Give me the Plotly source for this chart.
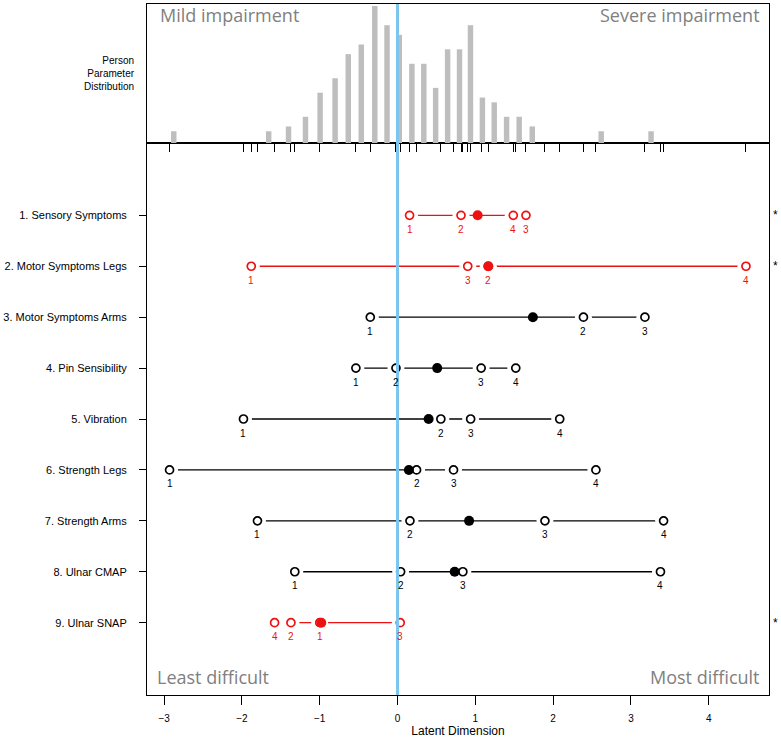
import plotly.graph_objects as go

# ---------------- data ----------------
items = ["1. Sensory Symptoms", "2. Motor Symptoms Legs", "3. Motor Symptoms Arms",
         "4. Pin Sensibility", "5. Vibration", "6. Strength Legs", "7. Strength Arms",
         "8. Ulnar CMAP", "9. Ulnar SNAP"]
# thresholds listed in category order (1, 2, 3, 4)
thresholds = [
    [0.155, 0.816, 1.651, 1.488],
    [-1.88, 1.167, 0.903, 4.479],
    [-0.35, 2.39, 3.18],
    [-0.535, -0.02, 1.075, 1.52],
    [-1.98, 0.557, 0.94, 2.085],
    [-2.93, 0.245, 0.72, 2.55],
    [-1.80, 0.16, 1.895, 3.42],
    [-1.32, 0.04, 0.84, 3.38],
    [-1.00, -1.37, 0.035, -1.58],
]
locations = [1.03, 1.167, 1.74, 0.51, 0.40, 0.146, 0.92, 0.735, -0.98]
misfit = [True, True, False, False, False, False, False, False, True]

person_x = [-2.876, -1.656, -1.401, -1.183, -0.995, -0.802, -0.633, -0.466, -0.292,
            -0.135, 0.023, 0.185, 0.338, 0.490, 0.644, 0.797, 0.938, 1.091, 1.243,
            1.402, 1.564, 1.732, 2.618, 3.259]
person_counts = [1, 1, 2, 4, 9, 12, 17, 19, 27, 23, 21, 15, 15, 10, 18, 18, 23, 8, 7,
                 4, 4, 2, 1, 1]

x_ticks = [-3, -2, -1, 0, 1, 2, 3, 4]
x_ticktext = ["\u22123", "\u22122", "\u22121", "0", "1", "2", "3", "4"]

# ---------------- style ----------------
RED = "#EE1111"
BLACK = "#000000"
GRAY_TXT = "#808080"
BAR = "#BEBEBE"
BLUE = "#7CC6EE"
FONT = "Liberation Sans, Arial, sans-serif"
BIGFONT = "Open Sans, sans-serif"
hist_offset = 1.44

fig = go.Figure()

rows = list(range(1, len(items) + 1))

# lines
for r, thr, bad in zip(rows, thresholds, misfit):
    col = RED if bad else BLACK
    xs = sorted(thr)
    fig.add_trace(go.Scatter(x=xs, y=[r] * len(xs), mode="lines",
                             line=dict(color=col, width=1.3),
                             hoverinfo="skip", xaxis="x", yaxis="y"))

# white halos (gaps around points)
hx, hy = [], []
for r, thr in zip(rows, thresholds):
    hx += thr
    hy += [r] * len(thr)
fig.add_trace(go.Scatter(x=hx, y=hy, mode="markers",
                         marker=dict(color="white", size=17, line=dict(width=0)),
                         hoverinfo="skip", xaxis="x", yaxis="y"))

# open circles
for r, thr, bad in zip(rows, thresholds, misfit):
    col = RED if bad else BLACK
    fig.add_trace(go.Scatter(x=thr, y=[r] * len(thr), mode="markers",
                             marker=dict(symbol="circle-open", color=col, size=8,
                                         line=dict(width=1.7, color=col)),
                             xaxis="x", yaxis="y"))

# filled item locations
for r, loc, bad in zip(rows, locations, misfit):
    col = RED if bad else BLACK
    fig.add_trace(go.Scatter(x=[loc], y=[r], mode="markers",
                             marker=dict(symbol="circle", color=col, size=10),
                             xaxis="x", yaxis="y"))

# person parameter histogram
fig.add_trace(go.Bar(x=person_x, y=[c + hist_offset for c in person_counts],
                     base=-hist_offset, width=0.07,
                     marker=dict(color=BAR, line=dict(width=0)),
                     xaxis="x2", yaxis="y2"))

annotations = []
# threshold category labels
for r, thr, bad in zip(rows, thresholds, misfit):
    col = RED if bad else BLACK
    for k, t in enumerate(thr):
        annotations.append(dict(x=t, y=r, xref="x", yref="y", text=str(k + 1),
                                showarrow=False, yshift=-14,
                                font=dict(family=FONT, size=10, color=col)))
    if bad:
        annotations.append(dict(x=1.011, y=r, xref="paper", yref="y", text="*",
                                showarrow=False, xanchor="center", yshift=0,
                                font=dict(family=FONT, size=12, color=BLACK)))

annotations += [
    dict(x=0.0177, y=0.984, xref="paper", yref="paper", text="Mild impairment",
         showarrow=False, xanchor="left", yanchor="middle",
         font=dict(family=BIGFONT, size=18, color=GRAY_TXT)),
    dict(x=0.989, y=0.984, xref="paper", yref="paper", text="Severe impairment",
         showarrow=False, xanchor="right", yanchor="middle",
         font=dict(family=BIGFONT, size=18, color=GRAY_TXT)),
    dict(x=0.0129, y=0.0264, xref="paper", yref="paper", text="Least difficult",
         showarrow=False, xanchor="left", yanchor="middle",
         font=dict(family=BIGFONT, size=18, color=GRAY_TXT)),
    dict(x=0.989, y=0.0264, xref="paper", yref="paper", text="Most difficult",
         showarrow=False, xanchor="right", yanchor="middle",
         font=dict(family=BIGFONT, size=18, color=GRAY_TXT)),
    dict(x=-0.016, y=0.8987, xref="paper", yref="paper",
         text="Person<br>Parameter<br>Distribution", align="right",
         showarrow=False, xanchor="right", yanchor="middle",
         font=dict(family=FONT, size=10, color=BLACK)),
]

all_thr = [t for thr in thresholds for t in thr]

fig.update_layout(
    width=781, height=738,
    margin=dict(l=147, r=12, t=4, b=43),
    paper_bgcolor="white", plot_bgcolor="white",
    showlegend=False,
    annotations=annotations,
    xaxis=dict(domain=[0, 1], range=[-3.22, 4.775], anchor="y",
               tickvals=x_ticks, ticktext=x_ticktext, ticks="outside", ticklen=9,
               tickwidth=1, tickcolor=BLACK, showline=True, linecolor=BLACK,
               linewidth=1, mirror=True, showgrid=False, zeroline=False,
               ticklabelstandoff=5,
               tickfont=dict(family=FONT, size=10, color=BLACK),
               title=dict(text="Latent Dimension", standoff=2,
                          font=dict(family=FONT, size=12, color=BLACK))),
    yaxis=dict(domain=[0, 0.7988], range=[10.42, -0.42], anchor="x",
               tickvals=rows, ticktext=items, ticks="outside", ticklen=7,
               tickcolor=BLACK, showline=True, linecolor=BLACK, linewidth=1,
               mirror=True, showgrid=False, zeroline=False, ticklabelstandoff=10,
               tickfont=dict(family=FONT, size=11, color=BLACK)),
    xaxis2=dict(anchor="y2", matches="x", tickvals=all_thr, ticks="outside",
                ticklen=8, tickcolor=BLACK, showticklabels=False, showline=True,
                linecolor=BLACK, linewidth=1, mirror=True, showgrid=False,
                zeroline=False),
    yaxis2=dict(domain=[0.7988, 1], range=[-hist_offset, 27.4], anchor="x2",
                showticklabels=False, ticks="", showline=True, linecolor=BLACK,
                linewidth=1, mirror=True, showgrid=False, zeroline=False),
    shapes=[dict(type="line", xref="x", yref="paper", x0=0, x1=0, y0=0, y1=1,
                 line=dict(color=BLUE, width=3), layer="above")],
)

fig.write_html("out.html",
               config={"displayModeBar": False},
               post_script="document.body.style.margin='0px';"
                           "document.body.style.padding='0px';")
